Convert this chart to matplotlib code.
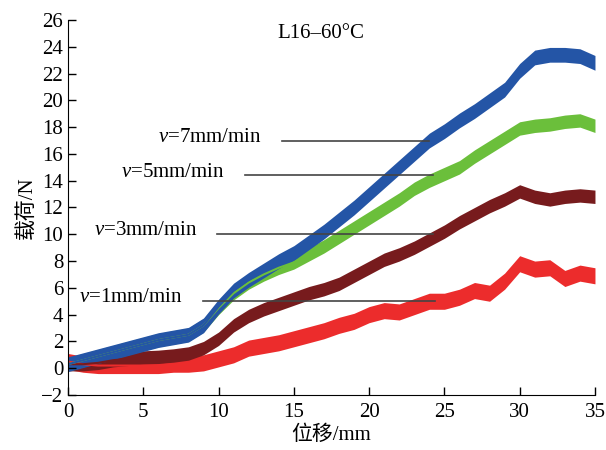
import numpy as np
import matplotlib
matplotlib.use("Agg")
import matplotlib.pyplot as plt

plt.rcParams['font.family'] = ['Liberation Serif', 'Noto Sans CJK SC']
plt.rcParams['mathtext.fontset'] = 'custom'
plt.rcParams['mathtext.it'] = 'Liberation Serif:italic'
plt.rcParams['mathtext.rm'] = 'Liberation Serif'
plt.rcParams['axes.unicode_minus'] = True

# =========================
# DATA (1 mm steps)
# =========================
disp = list(range(0, 36))

load_v7 = [0.3, 0.6, 0.9, 1.2, 1.5, 1.8, 2.1, 2.3, 2.5, 3.2, 4.6, 5.8, 6.6, 7.3, 8.0,
           8.6, 9.4, 10.2, 11.1, 12.0, 13.0, 14.0, 15.0, 16.0, 17.0, 17.7, 18.5, 19.2,
           20.0, 20.8, 22.2, 23.2, 23.4, 23.4, 23.3, 22.8]
load_v5 = [0.3, 0.6, 0.9, 1.2, 1.5, 1.8, 2.1, 2.3, 2.5, 3.2, 4.5, 5.6, 6.4, 7.0, 7.5,
           7.9, 8.5, 9.1, 9.8, 10.5, 11.2, 11.9, 12.6, 13.4, 14.0, 14.5, 15.0, 15.8,
           16.5, 17.2, 17.9, 18.1, 18.2, 18.4, 18.5, 18.1]
load_v3 = [0.3, 0.3, 0.4, 0.6, 0.7, 0.8, 0.85, 0.95, 1.1, 1.5, 2.2, 3.2, 3.9, 4.4, 4.8,
           5.2, 5.6, 5.9, 6.3, 6.9, 7.5, 8.1, 8.5, 9.0, 9.6, 10.2, 10.9, 11.5, 12.1,
           12.6, 13.2, 12.8, 12.6, 12.8, 12.9, 12.8]
load_v1 = [0.5, 0.3, 0.2, 0.2, 0.2, 0.2, 0.2, 0.3, 0.3, 0.4, 0.7, 1.0, 1.5, 1.7, 1.9,
           2.2, 2.5, 2.8, 3.2, 3.5, 4.0, 4.3, 4.2, 4.6, 5.0, 5.0, 5.3, 5.8, 5.6, 6.5,
           7.8, 7.4, 7.5, 6.7, 7.1, 6.9]

# label text, line start x, line end x, line y
labels = ["$v$=7mm/min", "$v$=5mm/min", "$v$=3mm/min", "$v$=1mm/min"]
label_x0 = [14.2, 11.75, 9.9, 8.96]
label_x1 = [24.0, 24.25, 24.25, 24.4]
label_y = [17.0, 14.4, 10.0, 5.05]

# =========================
# PLOT
# =========================
fig = plt.figure(figsize=(6.06, 4.5), dpi=100)
ax = fig.add_axes([0.1122, 0.1222, 0.8696, 0.8334])

series = [(load_v1, '#ec2c2c', 0.6), (load_v3, '#771b1d', 0.5),
          (load_v5, '#6bbf3b', 0.5), (load_v7, '#2455a6', 0.55)]
for vals, col, hw in series:
    vals = np.array(vals)
    ax.fill_between(disp, vals - hw, vals + hw, color=col, lw=0)
    ax.plot(disp, vals, color=col, lw=1.5)

for txt, x0, x1, y in zip(labels, label_x0, label_x1, label_y):
    ax.plot([x0, x1], [y, y], color='#444444', lw=1.2)
    ax.text(x0 - 1.3, y + 0.25, txt, ha='right', va='center', fontsize=15)

ax.text(16.8, 25.0, "L16–60°C", ha='center', va='center', fontsize=15)

ax.set_xlim(0, 35)
ax.set_ylim(-2, 26)
ax.set_xticks(range(0, 36, 5))
ax.set_yticks(range(-2, 27, 2))
ax.spines['top'].set_visible(False)
ax.spines['right'].set_visible(False)
ax.tick_params(direction='in', length=6, labelsize=15, width=1)
ax.tick_params(axis='x', pad=6)
ax.set_xlabel("位移/mm", fontsize=15, labelpad=2)
ax.set_ylabel("载荷/N", fontsize=15, labelpad=3)

plt.savefig("out.png", dpi=100)
